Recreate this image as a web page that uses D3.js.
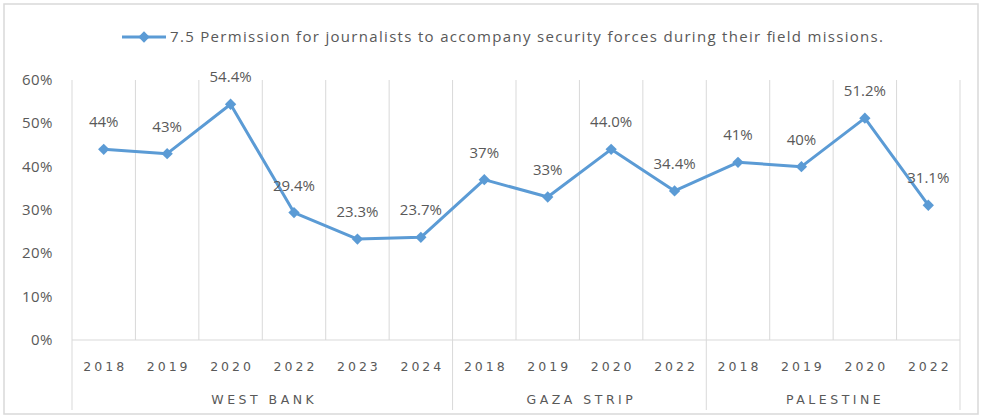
<!DOCTYPE html>
<html><head><meta charset="utf-8">
<script src="https://cdn.jsdelivr.net/npm/d3@7"></script>
<style>body{margin:0;background:#fff}svg{display:block}</style>
</head><body>
<svg id="c" width="983" height="420"></svg>
<script>
const years = ["2018","2019","2020","2022","2023","2024","2018","2019","2020","2022","2018","2019","2020","2022"];
const groups = ["WEST BANK","GAZA STRIP","PALESTINE"];
const groupSizes = [6,4,4];
const values = [44,43,54.4,29.4,23.3,23.7,37,33,44.0,34.4,41,40,51.2,31.1];
const labels = ["44%","43%","54.4%","29.4%","23.3%","23.7%","37%","33%","44.0%","34.4%","41%","40%","51.2%","31.1%"];
const yTicks = [0,10,20,30,40,50,60];
const seriesName = "7.5 Permission for journalists to accompany security forces during their field missions.";

const svg = d3.select("#c");
const blue = "#5b9bd5", grid = "#d9d9d9", txt = "#595959";
const font = "'Open Sans', 'DejaVu Sans', sans-serif";

svg.append("rect").attr("x",4).attr("y",4).attr("width",974).attr("height",410)
  .attr("fill","#fff").attr("stroke","#d9d9d9").attr("stroke-width",1.5);

const x = d3.scaleBand().domain(d3.range(years.length)).range([72,960]).padding(0);
const y = d3.scaleLinear().domain([0,60]).range([340,80]);

const bounds = d3.range(years.length+1).map(i => i<years.length ? x(i) : x.range()[1]);
svg.append("g").selectAll("line").data(bounds).join("line")
  .attr("x1",d=>d).attr("x2",d=>d).attr("y1",y(60)).attr("y2",y(0))
  .attr("stroke",grid).attr("stroke-width",1);

let cum=[0]; groupSizes.forEach(s=>cum.push(cum[cum.length-1]+s));
svg.append("g").selectAll("line").data(cum).join("line")
  .attr("x1",i=>bounds[i]).attr("x2",i=>bounds[i]).attr("y1",y(0)).attr("y2",410)
  .attr("stroke",grid).attr("stroke-width",1);

svg.append("line").attr("x1",72).attr("x2",960).attr("y1",y(0)).attr("y2",y(0))
  .attr("stroke",grid).attr("stroke-width",1);

svg.append("g").selectAll("text").data(yTicks).join("text")
  .attr("x",53).attr("y",d=>y(d)+5).attr("text-anchor","end")
  .attr("font-family",font).attr("font-size",15).attr("letter-spacing",0.5).attr("fill",txt)
  .text(d=>d+"%");

svg.append("g").selectAll("text").data(years).join("text")
  .attr("x",(d,i)=>x(i)+x.bandwidth()/2+1.5).attr("y",371).attr("text-anchor","middle")
  .attr("font-family","'DejaVu Sans', sans-serif").attr("font-size",12.5).attr("letter-spacing",3)
  .attr("fill",txt).text(d=>d);

svg.append("g").selectAll("text").data(groups).join("text")
  .attr("x",(d,i)=>(bounds[cum[i]]+bounds[cum[i+1]])/2+2).attr("y",404).attr("text-anchor","middle")
  .attr("font-family","'DejaVu Sans', sans-serif").attr("font-size",12.5).attr("letter-spacing",3.5)
  .attr("fill",txt).text(d=>d);

const line = d3.line().x((d,i)=>x(i)+x.bandwidth()/2).y(d=>y(d));
svg.append("path").datum(values).attr("d",line).attr("fill","none")
  .attr("stroke",blue).attr("stroke-width",3).attr("stroke-linejoin","round");

const diamond = d3.symbol().type(d3.symbolSquare).size(64);
svg.append("g").selectAll("path").data(values).join("path")
  .attr("transform",(d,i)=>`translate(${x(i)+x.bandwidth()/2},${y(d)}) rotate(45)`)
  .attr("d",diamond).attr("fill",blue);

svg.append("g").selectAll("text").data(values).join("text")
  .attr("x",(d,i)=>x(i)+x.bandwidth()/2).attr("y",d=>y(d)-22).attr("text-anchor","middle")
  .attr("font-family",font).attr("font-size",15).attr("fill",txt)
  .text((d,i)=>labels[i]);

svg.append("line").attr("x1",122).attr("x2",166).attr("y1",37).attr("y2",37)
  .attr("stroke",blue).attr("stroke-width",3);
svg.append("path").attr("transform","translate(144,37) rotate(45)").attr("d",diamond).attr("fill",blue);
svg.append("text").attr("x",170).attr("y",42).attr("font-family",font).attr("font-size",15)
  .attr("textLength",713).attr("lengthAdjust","spacing")
  .attr("fill",txt).text(seriesName);
</script>
</body></html>
